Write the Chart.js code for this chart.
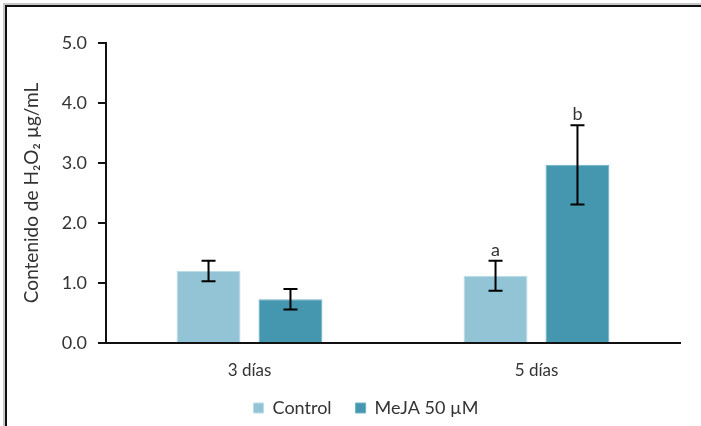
<!DOCTYPE html>
<html>
<head>
<meta charset="utf-8">
<script src="https://cdn.jsdelivr.net/npm/chart.js@4/dist/chart.umd.min.js"></script>
<style>
  html,body{margin:0;padding:0;background:#fff;}
  #wrap{position:relative;width:701px;height:426px;overflow:hidden;}
  #frame{position:absolute;left:3px;top:3px;width:760px;height:500px;border-top:2px solid #c8c8c8;border-left:2px solid #c8c8c8;pointer-events:none;}
  #frame2{position:absolute;left:0;top:0;width:760px;height:500px;border-top:2px solid #111;border-left:2px solid #111;}
</style>
</head>
<body>
<div id="wrap">
  <canvas id="c" width="701" height="426"></canvas>
  <div id="frame"><div id="frame2"></div></div>
</div>
<script>
const categories = ['3 días', '5 días'];
const seriesNames = ['Control', 'MeJA 50 µM'];
const controlValues = [1.20, 1.12];
const mejaValues = [0.73, 2.97];
const controlErrors = [0.17, 0.25];
const mejaErrors = [0.17, 0.66];
const controlLetters = ['', 'a'];
const mejaLetters = ['', 'b'];
const yTicks = [0, 1, 2, 3, 4, 5];

const FONT = 'Lato, "Open Sans", "Liberation Sans", sans-serif';
const errors = [controlErrors, mejaErrors];
const letters = [controlLetters, mejaLetters];

const errorPlugin = {
  id: 'errorBars',
  afterDatasetsDraw(chart) {
    const ctx = chart.ctx;
    const y = chart.scales.y;
    chart.data.datasets.forEach((ds, di) => {
      const meta = chart.getDatasetMeta(di);
      meta.data.forEach((bar, i) => {
        const v = ds.data[i];
        const e = errors[di][i];
        const x = bar.x;
        const yt = y.getPixelForValue(v + e);
        const yb = y.getPixelForValue(v - e);
        ctx.save();
        ctx.strokeStyle = '#000';
        ctx.lineWidth = 2;
        ctx.beginPath();
        ctx.moveTo(x, yt); ctx.lineTo(x, yb);
        ctx.moveTo(x - 7, yt); ctx.lineTo(x + 7, yt);
        ctx.moveTo(x - 7, yb); ctx.lineTo(x + 7, yb);
        ctx.stroke();
        const L = letters[di][i];
        if (L) {
          ctx.fillStyle = '#333';
          ctx.font = '18px ' + FONT;
          ctx.textAlign = 'center';
          ctx.textBaseline = 'bottom';
          ctx.fillText(L, x, yt - 2);
        }
        ctx.restore();
      });
    });
  }
};

// shift the legend box to match the reference placement
const legendShift = {
  id: 'legendShift',
  afterLayout(chart) {
    const lg = chart.legend;
    if (!lg) return;
    lg.left += 16; lg.right += 16;
    lg.top -= 12; lg.height += 12;
  }
};

new Chart(document.getElementById('c'), {
  type: 'bar',
  data: {
    labels: categories,
    datasets: [
      { label: seriesNames[0], data: controlValues, backgroundColor: '#93c4d5', borderColor: '#b9dce7', borderWidth: 1 },
      { label: seriesNames[1], data: mejaValues, backgroundColor: '#4497ae', borderColor: '#6fb3c6', borderWidth: 1 }
    ]
  },
  options: {
    responsive: false,
    animation: false,
    devicePixelRatio: 1,
    datasets: { bar: { categoryPercentage: 0.571, barPercentage: 0.78 } },
    layout: { padding: { left: 20, right: 21, top: 43, bottom: 1 } },
    plugins: {
      legend: {
        position: 'bottom',
        maxHeight: 38,
        labels: {
          boxWidth: 10, boxHeight: 10, padding: 24,
          color: '#333', font: { size: 18, family: FONT }
        }
      },
      tooltip: { enabled: false }
    },
    scales: {
      x: {
        grid: { display: false, drawTicks: false },
        border: { color: '#111', width: 2 },
        ticks: { color: '#333', font: { size: 17, family: FONT }, padding: 17 },
        afterFit(s) { s.height = 44; }
      },
      y: {
        min: 0, max: 5,
        afterBuildTicks(s) { s.ticks = yTicks.map(v => ({ value: v })); },
        grid: { drawOnChartArea: false, drawTicks: true, tickLength: 8, color: '#111', lineWidth: 2 },
        border: { color: '#111', width: 2 },
        ticks: {
          color: '#333', font: { size: 18, family: FONT }, padding: 11,
          callback: v => Number(v).toFixed(1)
        },
        title: {
          display: true, text: 'Contenido de H₂O₂ µg/mL',
          color: '#333', font: { size: 19, family: FONT }, padding: { top: 0, bottom: 6 }
        },
        afterFit(s) { s.width = 86; }
      }
    }
  },
  plugins: [errorPlugin, legendShift]
});
</script>
</body>
</html>
